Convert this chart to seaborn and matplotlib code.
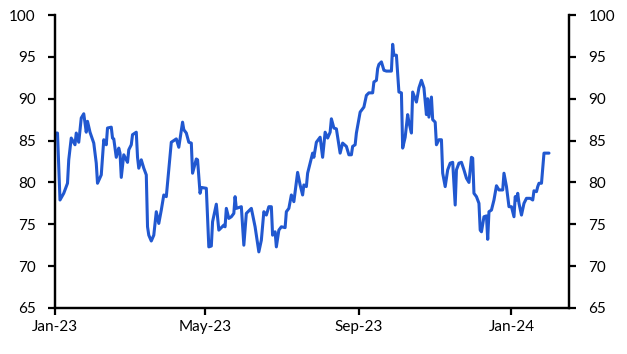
import pandas as pd
import seaborn as sns
import matplotlib.pyplot as plt
import matplotlib.dates as mdates

# Data (days since 1 Jan 2023, index level)
start_date = "2023-01-01"
day_offsets = [
    1, 2, 4, 7, 10, 11, 13, 16, 17, 19, 21, 23, 25, 26, 28, 31, 33, 34, 37, 39,
    41, 42, 45, 46, 47, 49, 51, 52, 53, 55, 58, 59, 61, 62, 65, 66, 67, 69, 71, 73,
    74, 75, 77, 79, 81, 83, 85, 87, 89, 90, 93, 97, 99, 102, 103, 105, 107, 109, 110, 113,
    114, 116, 117, 121, 123, 125, 126, 129, 131, 135, 136, 137, 139, 141, 143, 144, 145, 149, 151, 153,
    157, 160, 163, 165, 167, 169, 171, 173, 174, 176, 177, 179, 181, 184, 185, 187, 189, 191, 194, 196,
    198, 199, 201, 202, 204, 206, 207, 209, 212, 214, 216, 218, 220, 221, 223, 225, 228, 230, 233, 235,
    237, 238, 240, 241, 244, 247, 249, 251, 254, 255, 257, 258, 259, 261, 263, 265, 269, 270, 271, 273,
    275, 277, 278, 280, 282, 283, 285, 286, 287, 289, 291, 293, 295, 297, 298, 299, 301, 302, 304, 305,
    307, 309, 310, 312, 314, 316, 318, 320, 321, 323, 325, 327, 329, 331, 333, 334, 335, 337, 339, 340,
    341, 343, 345, 346, 347, 349, 351, 353, 355, 358, 359, 361, 363, 365, 367, 368, 369, 370, 371, 373,
    375, 377, 380, 382, 383, 385, 386, 387, 389, 391, 395,
]
index_values = [
    85.9, 85.9, 77.9, 78.7, 79.9, 82.7, 85.3, 84.5, 85.9, 84.8, 87.7, 88.2, 86.0, 87.3, 86.0, 84.7, 82.3, 79.9, 80.9, 85.1,
    84.5, 86.5, 86.6, 85.3, 85.2, 83.0, 84.1, 83.5, 80.6, 83.3, 82.4, 83.9, 84.5, 85.7, 86.0, 83.0, 81.7, 82.7, 81.7, 80.9,
    74.7, 73.7, 73.0, 73.7, 76.5, 75.1, 76.7, 78.5, 78.3, 79.9, 84.8, 85.2, 84.2, 87.2, 86.3, 85.9, 84.8, 84.7, 81.1, 82.8,
    82.7, 78.7, 79.4, 79.3, 72.3, 72.4, 75.3, 77.4, 74.3, 74.9, 74.7, 76.9, 75.7, 75.9, 76.3, 78.3, 76.9, 77.1, 72.5, 76.3,
    76.9, 74.7, 71.7, 73.1, 76.5, 76.1, 77.1, 77.1, 73.7, 74.1, 72.3, 74.3, 74.7, 74.6, 76.5, 76.9, 78.5, 77.7, 81.2, 79.7,
    78.5, 79.7, 79.5, 81.1, 82.3, 83.5, 83.0, 84.8, 85.4, 83.0, 86.0, 85.3, 86.0, 87.6, 86.5, 86.4, 83.5, 84.7, 84.3, 83.3,
    83.3, 84.3, 84.5, 85.9, 88.4, 89.0, 90.4, 90.7, 90.7, 92.0, 92.2, 93.6, 94.1, 94.4, 93.4, 93.3, 93.3, 96.5, 95.2, 95.2,
    90.8, 90.7, 84.1, 85.4, 88.1, 87.2, 85.9, 90.8, 90.4, 89.6, 91.3, 92.2, 91.3, 88.1, 90.0, 87.8, 90.2, 87.5, 87.2, 84.5,
    85.1, 85.1, 81.1, 79.5, 81.5, 82.3, 82.4, 77.3, 81.5, 82.3, 82.4, 81.5, 80.5, 80.0, 83.0, 82.9, 78.7, 78.3, 77.5, 74.3,
    74.1, 75.9, 76.0, 73.2, 76.5, 76.7, 77.9, 79.6, 79.1, 79.1, 81.1, 79.5, 77.1, 77.1, 75.9, 78.3, 77.9, 78.7, 77.5, 76.1,
    77.5, 78.1, 78.1, 77.9, 79.0, 78.9, 79.5, 79.9, 79.9, 83.5, 83.5,
]
y_ticks = [65, 70, 75, 80, 85, 90, 95, 100]
x_tick_dates = ["2023-01-01", "2023-05-01", "2023-09-01", "2024-01-01"]

df = pd.DataFrame({
    "date": pd.Timestamp(start_date) + pd.to_timedelta(day_offsets, unit="D"),
    "value": index_values,
})

sns.set_style("ticks")
plt.rcParams["font.family"] = ["Lato", "DejaVu Sans"]

fig = plt.figure(figsize=(6.27, 3.54), dpi=100)
ax = fig.add_axes([0.0877, 0.130, 0.8198, 0.8276])

sns.lineplot(data=df, x="date", y="value", ax=ax, color="#2158D0", linewidth=2.2)

ax.set_xlim(pd.Timestamp("2023-01-01"), pd.Timestamp("2024-02-16"))
ax.set_ylim(65, 100)
ax.set_yticks(y_ticks)
ax.set_xticks(pd.to_datetime(x_tick_dates))
ax.xaxis.set_major_formatter(mdates.DateFormatter("%b-%y"))
ax.set_xlabel(None)
ax.set_ylabel(None)

ax2 = ax.twinx()
ax2.set_ylim(65, 100)
ax2.set_yticks(y_ticks)

for a in (ax, ax2):
    a.spines["top"].set_visible(False)
    for s in ("left", "right", "bottom"):
        a.spines[s].set_linewidth(1.6)
        a.spines[s].set_color("black")
    a.tick_params(axis="both", direction="out", length=5, width=1.6,
                  labelsize=11, colors="black")
    a.tick_params(axis="y", pad=9)
    a.tick_params(axis="x", pad=4)
ax.spines["right"].set_visible(True)

fig.savefig("out.png", dpi=100)
